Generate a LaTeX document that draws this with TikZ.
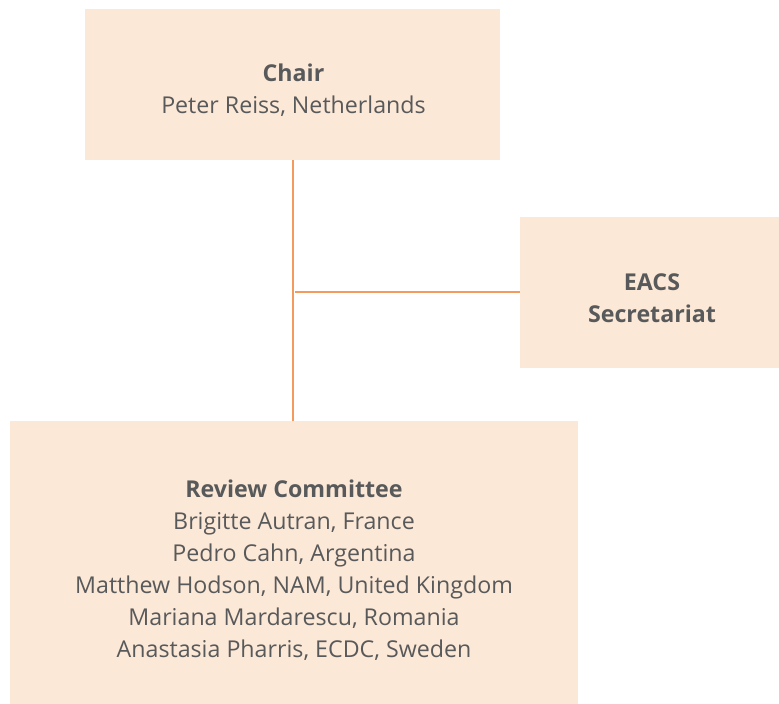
\documentclass[tikz,border=0pt]{standalone}
\usepackage{fontspec}
\setmainfont{Open Sans}
\definecolor{boxfill}{HTML}{FCE8D6}
\definecolor{txt}{HTML}{58595B}
\definecolor{linec}{HTML}{F39A5C}
\begin{document}
\begin{tikzpicture}[x=1pt,y=-1pt,
  orgbox/.style={fill=boxfill, draw=none, inner sep=0pt},
  orgtext/.style={inner sep=0pt, text=txt, align=center,
    font=\fontsize{23.2}{32}\selectfont},
  conn/.style={draw=linec, line width=1.2pt}]
\useasboundingbox (0,0) rectangle (779,704);
\node[orgbox, minimum width=415pt, minimum height=151pt] (chair) at (292.5,84.5) {};
\node[orgbox, minimum width=259pt, minimum height=151pt] (eacs) at (649.5,292.5) {};
\node[orgbox, minimum width=568pt, minimum height=283pt] (review) at (294,562.5) {};
\node[orgtext] (chairtxt) at (293.5,90) {\textbf{Chair}\\Peter Reiss, Netherlands};
\node[orgtext] (eacstxt) at (652,298) {\textbf{EACS}\\\textbf{Secretariat}};
\node[orgtext] (reviewtxt) at (294,570)
  {\textbf{Review Committee}\\Brigitte Autran, France\\Pedro Cahn, Argentina\\
   Matthew Hodson, NAM, United Kingdom\\Mariana Mardarescu, Romania\\
   Anastasia Pharris, ECDC, Sweden};
\coordinate (top) at (293,160);
\coordinate (bot) at (293,421);
\coordinate (junc) at (295,292);
\draw[conn] (top) -- (bot);
\draw[conn] (junc) -- (eacs.west |- junc);
\end{tikzpicture}
\end{document}
